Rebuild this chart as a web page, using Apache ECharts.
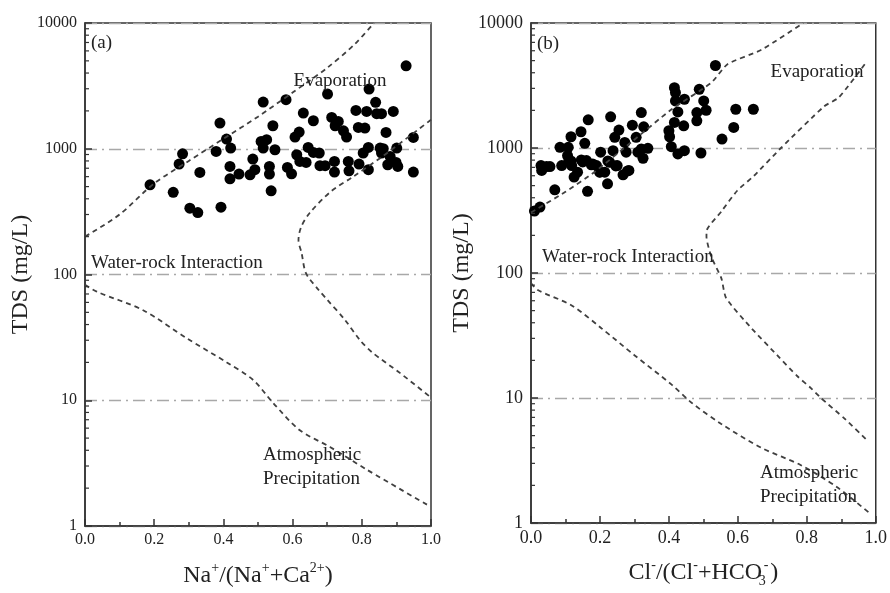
<!DOCTYPE html>
<html>
<head>
<meta charset="utf-8">
<title>Gibbs diagram</title>
<script src="https://cdn.jsdelivr.net/npm/echarts@6/dist/echarts.min.js"></script>
<style>
html,body{margin:0;padding:0;background:#fff;}
#chart{width:890px;height:593px;}
</style>
</head>
<body>
<div id="chart"></div>
<script>
// scatter samples: [ratio, TDS mg/L]
var aSamples = [[0.188,517],[0.255,450],[0.272,755],[0.282,912],[0.303,337],[0.326,311],[0.332,648],[0.379,952],[0.39,1600],[0.393,343],
  [0.409,1195],[0.421,1012],[0.419,723],[0.419,577],[0.445,629],[0.477,621],[0.485,828],[0.491,681],[0.515,2350],[0.509,1143],
  [0.525,1180],[0.515,1012],[0.533,723],[0.533,629],[0.538,463],[0.543,1524],[0.549,982],[0.581,2455],[0.585,710],[0.597,632],
  [0.607,1238],[0.619,1358],[0.612,896],[0.621,793],[0.631,1922],[0.639,778],[0.645,1025],[0.66,1670],[0.66,935],[0.677,925],
  [0.679,733],[0.694,733],[0.701,2722],[0.713,1775],[0.723,1524],[0.732,1650],[0.721,793],[0.721,652],[0.747,1390],[0.756,1238],
  [0.761,793],[0.763,668],[0.783,2018],[0.79,1478],[0.809,1460],[0.792,755],[0.804,925],[0.819,681],[0.819,1025],[0.821,2985],
  [0.814,1982],[0.84,2338],[0.843,1900],[0.857,1900],[0.853,1012],[0.862,1000],[0.857,925],[0.87,1349],[0.891,1982],[0.875,746],
  [0.882,869],[0.901,1012],[0.904,723],[0.899,778],[0.928,4570],[0.949,1230],[0.949,652]];

var bSamples = [[0.010,313],[0.026,337],[0.031,661],[0.029,723],[0.045,710],[0.055,710],[0.069,463],[0.084,1012],[0.089,723],[0.108,1012],
  [0.106,869],[0.110,793],[0.116,1230],[0.118,723],[0.125,585],[0.135,640],[0.145,1349],[0.146,803],[0.156,1089],[0.161,793],
  [0.164,450],[0.166,1680],[0.175,733],[0.190,723],[0.199,640],[0.202,925],[0.214,640],[0.222,517],[0.231,1775],[0.228,769],
  [0.238,952],[0.243,1217],[0.250,723],[0.255,1390],[0.267,610],[0.272,1109],[0.276,925],[0.284,661],[0.294,1524],[0.305,1217],
  [0.310,925],[0.320,1922],[0.327,1478],[0.320,982],[0.325,828],[0.339,994],[0.400,1374],[0.402,1230],[0.407,1025],[0.416,3040],
  [0.419,2775],[0.419,2380],[0.426,1945],[0.416,1600],[0.443,1506],[0.445,2455],[0.426,896],[0.445,952],[0.481,1650],[0.481,1922],
  [0.488,2947],[0.493,912],[0.501,2380],[0.508,2004],[0.535,4570],[0.554,1180],[0.588,1460],[0.594,2042],[0.645,2042],
  [0.116,787],[0.150,773],[0.179,745],[0.200,643],[0.223,787],[0.246,718],[0.280,655]];

// Gibbs boundary curves
var aEvapLine = [[0,200],[0.1,300],[0.2,530],[0.3,800],[0.4,1200],[0.5,1800],[0.6,2800],[0.7,4400],[0.78,6800],[0.835,10000]];
var aRockLine = [[1.0,1700],[0.86,870],[0.775,600],[0.71,455],[0.65,310],[0.625,240],[0.617,188],[0.626,148],[0.639,102],
  [0.676,75],[0.7,63],[0.75,44],[0.795,30],[0.83,24],[0.91,16.5],[1.0,10.5]];
var aRainLine = [[0,83],[0.034,73],[0.168,52],[0.295,31],[0.41,20],[0.486,14.5],[0.544,9.5],[0.62,5.8],[0.708,4.25],[0.815,2.8],[0.99,1.47]];

var bEvapLine = [[0,305],[0.1,446],[0.185,645],[0.292,1120],[0.408,2040],[0.523,3330],[0.57,4680],[0.668,6100],[0.79,10000]];
var bRockLine = [[0.968,4670],[0.893,2540],[0.85,2150],[0.725,1000],[0.647,600],[0.598,455],[0.552,310],[0.509,215],[0.509,195],
  [0.523,135],[0.552,91],[0.566,63],[0.64,36],[0.714,22],[0.772,15],[0.812,12],[0.841,10],[0.908,6.9],[0.971,4.7]];
var bRainLine = [[0,83],[0.02,73],[0.118,55],[0.205,36],[0.3,22],[0.408,12.8],[0.465,9.2],[0.552,6.2],[0.668,4.0],[0.783,2.9],[0.887,1.94],[0.985,1.18]];

// log minor tick values on the TDS axis
var minorTdsTicks = [];
[1, 10, 100, 1000].forEach(function (d) {
  for (var k = 2; k <= 9; k++) minorTdsTicks.push(d * k);
});

var chart = echarts.init(document.getElementById('chart'));
var FONT = '"Liberation Serif", "Times New Roman", serif';
var INK = '#222';

function xAxisFor(idx, name, size, rich) {
  return {
    gridIndex: idx, type: 'value', min: 0, max: 1, interval: 0.2,
    name: name, nameLocation: 'middle', nameGap: 35,
    nameTextStyle: { fontFamily: FONT, fontSize: 24, color: INK, rich: rich },
    axisLine: { lineStyle: { color: '#333', width: 1.5 } },
    axisTick: { inside: true, length: 7, lineStyle: { color: '#333', width: 1.5 } },
    minorTick: { show: true, splitNumber: 2, length: 4, lineStyle: { color: '#333', width: 1.5 } },
    axisLabel: { fontFamily: FONT, fontSize: size, color: INK, margin: 6, formatter: function (v) { return v.toFixed(1); } },
    splitLine: { show: false }
  };
}

function yAxisFor(idx, size) {
  return {
    gridIndex: idx, type: 'log', logBase: 10, min: 1, max: 10000,
    name: 'TDS (mg/L)', nameLocation: 'middle', nameGap: 50,
    nameTextStyle: { fontFamily: FONT, fontSize: 24, color: INK },
    axisLine: { lineStyle: { color: '#333', width: 1.5 } },
    axisTick: { inside: true, length: 7, lineStyle: { color: '#333', width: 1.5 } },
    axisLabel: { fontFamily: FONT, fontSize: size, color: INK, margin: 8, formatter: function (v) { return String(Math.round(v)); } },
    splitLine: { show: true, lineStyle: { color: '#a8a8a8', width: 1.3, type: [12, 5, 2, 5] } }
  };
}

var supSub = {
  n: { fontFamily: FONT, fontSize: 24, color: INK, lineHeight: 30 },
  sup: { fontFamily: FONT, fontSize: 14, color: INK, verticalAlign: 'top', lineHeight: 15 },
  supw: { fontFamily: FONT, fontSize: 14, color: INK, verticalAlign: 'top', lineHeight: 15, width: 8 },
  sub: { fontFamily: FONT, fontSize: 14, color: INK, verticalAlign: 'bottom', lineHeight: 15, width: 0 }
};

function curve(data, xi, sm) {
  return {
    type: 'line', data: data, xAxisIndex: xi, yAxisIndex: xi, showSymbol: false, silent: true,
    smooth: sm, z: 3,
    lineStyle: { color: '#404040', width: 1.8, type: [5, 4] }
  };
}

function dots(data, xi) {
  return {
    type: 'scatter', data: data, xAxisIndex: xi, yAxisIndex: xi, symbolSize: 11, z: 2,
    itemStyle: { color: '#000', opacity: 1 }
  };
}

function minorTicks(xi) {
  return {
    type: 'custom', xAxisIndex: xi, yAxisIndex: xi, silent: true, z: 4,
    data: minorTdsTicks.map(function (v) { return [0, v]; }),
    renderItem: function (params, api) {
      var p = api.coord([0, api.value(1)]);
      return { type: 'line', shape: { x1: p[0], y1: p[1], x2: p[0] + 4, y2: p[1] }, style: { stroke: '#333', lineWidth: 1.2 } };
    }
  };
}

function label(text, x, y, align) {
  return { type: 'text', x: x, y: y, z: 10,
    style: { text: text, font: '19px ' + FONT, fill: INK, textAlign: align || 'left', textVerticalAlign: 'middle', align: align || 'left', verticalAlign: 'middle' } };
}

var option = {
  backgroundColor: '#fff',
  animation: false,
  grid: [
    { left: 85, top: 23, width: 346, height: 503, show: true, borderColor: '#333', borderWidth: 1.5 },
    { left: 531, top: 23, width: 346, height: 503, show: true, borderColor: '#333', borderWidth: 1.5 }
  ],
  xAxis: [
    xAxisFor(0, '{n|Na}{sup|+}{n|/(Na}{sup|+}{n|+Ca}{sup|2+}{n|)}', 16, supSub),
    xAxisFor(1, '{n|Cl}{sup|-}{n|/(Cl}{sup|-}{n|+HCO}{sub|3}{supw|-}{n|)}', 18, supSub)
  ],
  yAxis: [yAxisFor(0, 16), yAxisFor(1, 18)],
  series: [
    dots(aSamples, 0),
    curve(aEvapLine, 0, 0.3), curve(aRockLine, 0, 0.3), curve(aRainLine, 0, 0.3),
    minorTicks(0),
    dots(bSamples, 1),
    curve(bEvapLine, 1, 0.2), curve(bRockLine, 1, 0.2), curve(bRainLine, 1, 0.3),
    minorTicks(1)
  ],
  graphic: [
    label('(a)', 91, 43), label('Evaporation', 340, 81, 'center'), label('Water-rock Interaction', 91, 263),
    label('Atmospheric', 263, 455), label('Precipitation', 263, 479),
    label('(b)', 537, 44), label('Evaporation', 817, 72, 'center'), label('Water-rock Interaction', 542, 257),
    label('Atmospheric', 760, 473), label('Precipitation', 760, 497)
  ]
};

chart.setOption(option);
</script>
</body>
</html>
